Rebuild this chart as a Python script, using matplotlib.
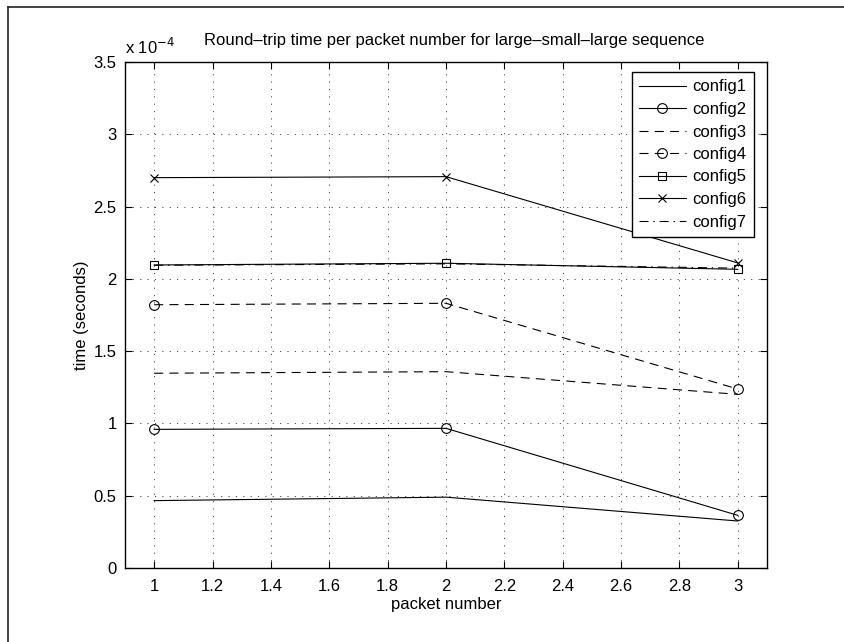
import matplotlib
matplotlib.use("Agg")
import matplotlib.pyplot as plt
from matplotlib.lines import Line2D
from matplotlib.ticker import FuncFormatter, MultipleLocator

plt.rcParams['font.family'] = ['Liberation Sans', 'DejaVu Sans']
plt.rcParams['lines.scale_dashes'] = False

# Round-trip times (seconds) for each configuration at packets 1..3
packets = [1, 2, 3]
config1 = [0.466e-4, 0.490e-4, 0.325e-4]
config2 = [0.959e-4, 0.966e-4, 0.364e-4]
config3 = [1.347e-4, 1.358e-4, 1.201e-4]
config4 = [1.821e-4, 1.831e-4, 1.238e-4]
config5 = [2.096e-4, 2.108e-4, 2.066e-4]
config6 = [2.700e-4, 2.707e-4, 2.110e-4]
config7 = [2.094e-4, 2.104e-4, 2.074e-4]
labels = ['config1', 'config2', 'config3', 'config4', 'config5', 'config6', 'config7']
series = [config1, config2, config3, config4, config5, config6, config7]

title = 'Round\u2013trip time per packet number for large\u2013small\u2013large sequence'
xlabel = 'packet number'
ylabel = 'time (seconds)'
scale = 1e-4
FS = 12

W, H = 845, 642
fig = plt.figure(figsize=(W / 100, H / 100), dpi=100)
fig.patch.set_facecolor('white')

# outer figure frame (left and top edges)
fx, fy = 8.5 / W, 1 - 6.5 / H
fig.lines.append(Line2D([fx, fx], [-0.01, fy], transform=fig.transFigure,
                        color='#222222', linewidth=1.2))
fig.lines.append(Line2D([fx, 1.01], [fy, fy], transform=fig.transFigure,
                        color='#222222', linewidth=1.2))

ax = fig.add_axes([125 / W, 1 - 568 / H, (767 - 125) / W, (568 - 62) / H])

dash = (0, (6.5, 4.5))
dashdot = (0, (6.5, 3.5, 1, 3.5))
styles = [
    dict(linestyle='-', marker=None),
    dict(linestyle='-', marker='o', markersize=7),
    dict(linestyle=dash, marker=None),
    dict(linestyle=dash, marker='o', markersize=7),
    dict(linestyle='-', marker='s', markersize=6),
    dict(linestyle='-', marker='x', markersize=6),
    dict(linestyle=dashdot, marker=None),
]
for vals, lab, st in zip(series, labels, styles):
    ax.plot(packets, vals, color='black', linewidth=0.8, label=lab,
            markerfacecolor='none', markeredgecolor='black',
            markeredgewidth=0.8, **st)

ax.set_xlim(0.9, 3.1)
ax.set_ylim(0, 3.5e-4)
ax.xaxis.set_major_locator(MultipleLocator(0.2))
ax.yaxis.set_major_locator(MultipleLocator(0.5e-4))
ax.xaxis.set_major_formatter(FuncFormatter(lambda v, p: '%g' % round(v, 3)))
ax.yaxis.set_major_formatter(FuncFormatter(lambda v, p: '%g' % round(v / scale, 3)))

ax.tick_params(direction='in', length=5, width=0.8, top=True, right=True,
               labelsize=FS)
ax.tick_params(axis='x', pad=8)
ax.tick_params(axis='y', pad=6)
for s in ax.spines.values():
    s.set_linewidth(1.0)

ax.grid(True, color='#444444', linestyle=(0, (0.8, 4.5)), linewidth=0.7)

ax.set_title(title, fontsize=FS, pad=12, x=0.512)
ax.set_xlabel(xlabel, fontsize=FS, labelpad=2)
ax.set_ylabel(ylabel, fontsize=FS, labelpad=3)

ax.text(0.0, 1.01, r'x 10$^{-4}$', transform=ax.transAxes, fontsize=FS,
        ha='left', va='bottom')

leg = ax.legend(loc='upper right', bbox_to_anchor=(1 - 13 / 642, 1 - 10 / 506),
                borderaxespad=0, fontsize=FS, handlelength=2.8,
                labelspacing=0.45, fancybox=False, framealpha=1,
                edgecolor='black', borderpad=0.45, handletextpad=0.4)
leg.get_frame().set_linewidth(1.0)

fig.savefig('out.png', dpi=100, facecolor='white')
